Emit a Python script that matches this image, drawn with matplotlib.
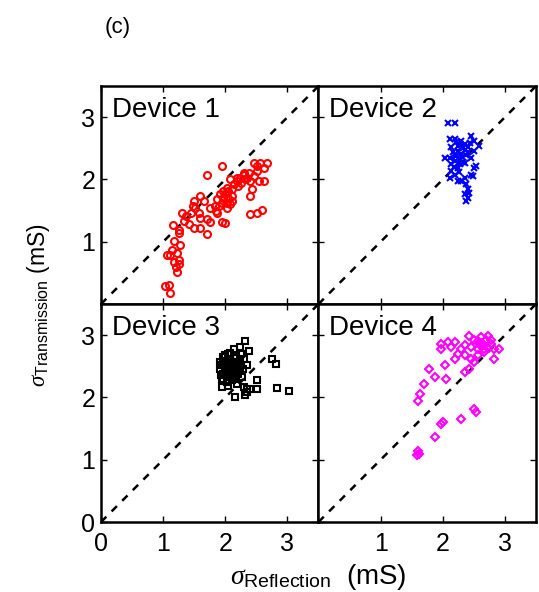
import matplotlib.pyplot as plt

plt.rcParams['font.family'] = ['Liberation Sans', 'DejaVu Sans']
plt.rcParams['mathtext.fontset'] = 'custom'
plt.rcParams['mathtext.rm'] = 'Liberation Sans'
plt.rcParams['mathtext.it'] = 'Liberation Serif:italic'

# Device 1 (red circles)
d1_x = [1.03, 1.10, 1.11, 1.22, 1.21, 1.26, 1.25, 1.18, 1.11, 1.06, 1.14, 1.23, 1.27,
        1.18, 1.26, 1.16, 1.26, 1.33, 1.41, 1.37, 1.30, 1.45, 1.48, 1.52, 1.49, 1.60,
        1.65, 1.57, 1.60, 1.70, 1.70, 1.76, 1.84, 1.87, 1.92, 1.97, 2.03, 2.08, 2.11,
        1.97, 2.03, 2.14, 2.19, 2.24, 2.30, 2.35, 2.40, 2.46, 2.51, 2.54, 2.62, 2.43,
        2.40, 2.46, 2.56, 2.67, 2.62, 2.51, 1.70, 1.95, 2.00, 1.95, 2.40, 2.51, 2.59,
        1.87, 1.76, 1.60, 1.49, 2.30, 2.19, 2.08, 2.05, 2.11, 2.00, 1.95, 2.05, 1.90,
        2.02, 1.85, 2.10, 2.25, 2.32, 2.38, 2.20]
d1_y = [0.29, 0.30, 0.17, 0.52, 0.60, 0.64, 0.71, 0.68, 0.79, 0.78, 0.87, 0.82, 0.95,
        1.02, 1.14, 1.27, 1.19, 1.33, 1.28, 1.41, 1.46, 1.46, 1.57, 1.54, 1.65, 1.73,
        1.65, 1.46, 1.38, 1.36, 1.13, 1.54, 1.57, 1.68, 1.76, 1.71, 1.63, 1.60, 1.73,
        1.82, 1.87, 1.92, 1.98, 2.03, 2.08, 2.03, 1.98, 2.06, 2.14, 1.98, 1.98, 1.84,
        1.73, 2.27, 2.27, 2.27, 2.18, 2.22, 2.08, 2.22, 1.30, 1.32, 1.44, 1.46, 1.51,
        1.46, 1.32, 1.22, 1.22, 2.11, 2.03, 2.00, 1.81, 1.84, 1.76, 1.62, 1.70, 1.58,
        1.55, 1.50, 1.65, 1.95, 2.00, 2.10, 1.90]

# Device 2 (blue crosses)
d2_x = [2.09, 2.20, 2.11, 2.19, 2.30, 2.46, 2.51, 2.35, 2.40, 2.24, 2.14, 2.03, 2.11,
        2.19, 2.30, 2.40, 2.51, 2.59, 2.46, 2.35, 2.24, 2.14, 2.19, 2.11, 2.35, 2.48,
        2.51, 2.54, 2.46, 2.38, 2.40, 2.35, 2.40, 2.38, 2.43, 2.24, 2.30, 2.25, 2.32,
        2.20, 2.28, 2.16, 2.22, 2.27, 2.33, 2.38, 2.44, 2.13, 2.18, 2.26, 2.31, 2.36,
        2.21, 2.29]
d2_y = [2.91, 2.91, 2.65, 2.65, 2.62, 2.70, 2.62, 2.57, 2.52, 2.54, 2.52, 2.35, 2.35,
        2.30, 2.41, 2.44, 2.46, 2.54, 2.35, 2.27, 2.19, 2.14, 2.08, 2.03, 2.03, 2.06,
        2.19, 2.22, 2.08, 1.92, 1.84, 1.76, 1.71, 1.65, 1.79, 1.98, 1.98, 2.45, 2.50,
        2.40, 2.25, 2.44, 2.38, 2.33, 2.28, 2.40, 2.58, 2.25, 2.20, 2.12, 2.36, 2.48,
        2.60, 2.55]

# Device 3 (black squares)
d3_x = [2.32, 2.38, 2.14, 2.24, 1.97, 2.05, 1.92, 2.00, 2.08, 2.19, 2.30, 1.92, 2.03,
        2.14, 2.24, 2.35, 1.95, 2.05, 2.16, 2.27, 1.95, 2.05, 2.19, 2.30, 2.35, 2.40,
        2.51, 2.51, 2.75, 2.81, 2.83, 3.02, 2.15, 2.31, 2.35, 2.00, 2.10, 2.20, 1.98,
        2.08, 2.18, 2.12, 2.02, 2.25, 1.96, 2.10, 2.22, 1.94, 1.99, 2.04, 2.09, 2.13,
        2.17, 2.21, 1.97, 2.02, 2.07, 2.12, 2.16, 2.00, 2.06, 2.11, 2.15, 2.24, 2.28,
        1.93, 2.03, 2.08]
d3_y = [2.90, 2.74, 2.78, 2.81, 2.65, 2.70, 2.57, 2.52, 2.60, 2.54, 2.62, 2.46, 2.41,
        2.44, 2.49, 2.52, 2.30, 2.28, 2.30, 2.33, 2.17, 2.19, 2.22, 2.17, 2.14, 2.14,
        2.14, 2.28, 2.62, 2.54, 2.15, 2.10, 2.01, 2.04, 2.09, 2.40, 2.48, 2.38, 2.58,
        2.62, 2.66, 2.35, 2.25, 2.70, 2.38, 2.55, 2.45, 2.52, 2.44, 2.36, 2.47, 2.57,
        2.63, 2.42, 2.29, 2.50, 2.33, 2.40, 2.52, 2.68, 2.58, 2.28, 2.34, 2.60, 2.45,
        2.36, 2.55, 2.72]

# Device 4 (magenta diamonds)
d4_x = [2.43, 2.51, 2.62, 2.73, 2.78, 2.67, 2.56, 2.46, 2.35, 2.30, 2.19, 2.08, 1.97,
        1.97, 2.14, 2.24, 2.19, 2.35, 2.46, 2.56, 2.67, 2.83, 2.91, 2.83, 2.51, 2.43,
        2.35, 2.03, 1.78, 1.87, 2.05, 1.70, 1.64, 1.60, 2.51, 2.54, 2.30, 2.00, 1.97,
        1.87, 1.60, 1.61, 1.59, 2.78, 2.73, 2.62, 2.56, 2.67, 2.60, 2.70]
d4_y = [2.99, 2.92, 2.97, 2.99, 2.92, 2.84, 2.78, 2.81, 2.84, 2.78, 2.89, 2.89, 2.86,
        2.78, 2.81, 2.70, 2.62, 2.68, 2.62, 2.68, 2.73, 2.78, 2.78, 2.62, 2.57, 2.46,
        2.41, 2.52, 2.46, 2.33, 2.30, 2.22, 2.06, 1.94, 1.82, 1.77, 1.65, 1.60, 1.57,
        1.37, 1.14, 1.09, 1.07, 2.86, 2.80, 2.88, 2.90, 2.78, 2.85, 2.92]

labels = ['Device 1', 'Device 2', 'Device 3', 'Device 4']
xs = [d1_x, d2_x, d3_x, d4_x]
ys = [d1_y, d2_y, d3_y, d4_y]
styles = [dict(marker='o', mfc='none', mec='red', ms=5),
          dict(marker='x', color='blue', ms=5),
          dict(marker='s', mfc='none', mec='black', ms=4),
          dict(marker='D', mfc='none', mec='magenta', ms=4)]

fig = plt.figure(figsize=(5.39, 5.92), dpi=100)
left, bottom, w, h = 0.1874, 0.1182, 0.4035, 0.3682

for i in range(4):
    row, col = divmod(i, 2)
    ax = fig.add_axes([left + col * w, bottom + (1 - row) * h, w, h])
    ax.plot([0, 3.5], [0, 3.5], 'k--', lw=1.8, dashes=(3, 3))
    ax.plot(xs[i], ys[i], ls='none', mew=1.5, **styles[i])
    ax.set_xlim(0, 3.5)
    ax.set_ylim(0, 3.5)
    ax.set_xticks([0, 1, 2, 3])
    ax.set_yticks([0, 1, 2, 3])
    ax.tick_params(direction='in', top=True, right=True, length=4, width=1,
                   labelsize=18)
    ax.tick_params(axis='x', pad=7)
    ax.tick_params(axis='y', pad=4)
    for s in ax.spines.values():
        s.set_linewidth(1.8)
    ax.text(0.05, 0.95, labels[i], transform=ax.transAxes, fontsize=20,
            va='top', ha='left')
    if row == 0:
        ax.set_xticklabels([])
    else:
        ax.set_xticklabels(['0', '1', '2', '3'] if col == 0 else ['', '1', '2', '3'])
    if col == 1:
        ax.set_yticklabels([])
    else:
        ax.set_yticklabels(['0', '1', '2', '3'] if row == 1 else ['', '1', '2', '3'])

fig.text(0.072, 0.485, r'$\sigma_{\mathrm{Transmission}}$ (mS)', rotation=90,
         ha='center', va='center', fontsize=16.5)
fig.text(0.59, 0.025, r'$\sigma_{\mathrm{Reflection}}$  (mS)', ha='center',
         va='center', fontsize=20)
fig.text(0.219, 0.953, '(c)', ha='center', va='center', fontsize=16)

fig.savefig('out.png', dpi=100)
